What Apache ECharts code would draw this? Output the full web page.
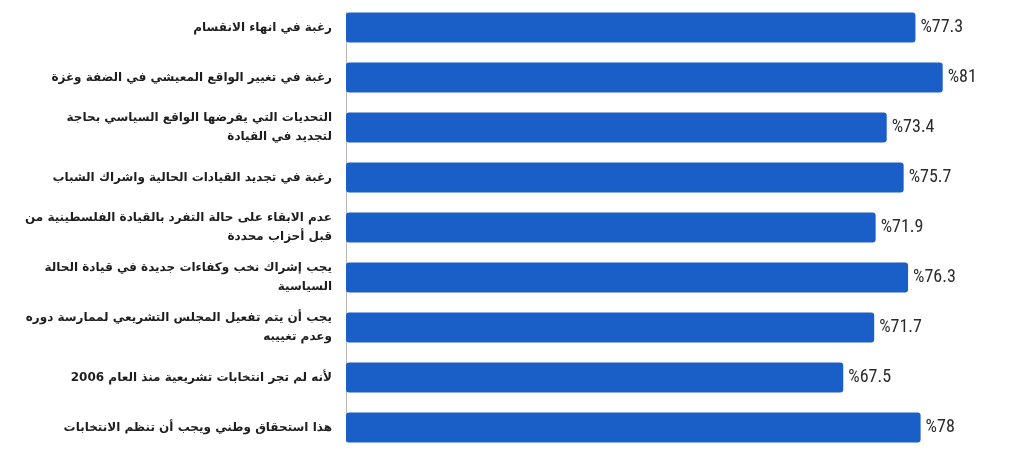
<!DOCTYPE html>
<html lang="ar">
<head>
  <meta charset="UTF-8">
  <title>أسباب تأييد إجراء الانتخابات</title>
  <script src="https://cdn.jsdelivr.net/npm/echarts@6/dist/echarts.min.js"></script>
  <style>
    html, body { margin: 0; padding: 0; background: #fff; }
    #chart { width: 1024px; height: 455px; }
  </style>
</head>
<body>

<div id="chart"></div>

<script>
  // الفئات (من الأعلى إلى الأسفل)
  var categories = [
    'رغبة في انهاء الانقسام',
    'رغبة في تغيير الواقع المعيشي في الضفة وغزة',
    'التحديات التي يفرضها الواقع السياسي بحاجة\nلتجديد في القيادة',
    'رغبة في تجديد القيادات الحالية واشراك الشباب',
    'عدم الابقاء على حالة التفرد بالقيادة الفلسطينية من\nقبل أحزاب محددة',
    'يجب إشراك نخب وكفاءات جديدة في قيادة الحالة\nالسياسية',
    'يجب أن يتم تفعيل المجلس التشريعي لممارسة دوره\nوعدم تغييبه',
    'لأنه لم تجر انتخابات تشريعية منذ العام 2006',
    'هذا استحقاق وطني ويجب أن تنظم الانتخابات'
  ];

  // النسب المئوية
  var values = [77.3, 81, 73.4, 75.7, 71.9, 76.3, 71.7, 67.5, 78];

  var myChart = echarts.init(document.getElementById('chart'));

  var option = {
    animation: false,
    grid: [
      // grid 0: only carries the thin vertical axis line
      { left: 346, right: 15, top: 12, bottom: 13 },
      // grid 1: the bars
      { left: 346, right: 15, top: 27.5, bottom: 27.5 }
    ],
    xAxis: [
      { gridIndex: 0, type: 'value', min: 0, max: 90, show: false },
      { gridIndex: 1, type: 'value', min: 0, max: 90, show: false }
    ],
    yAxis: [
      {
        gridIndex: 0,
        type: 'category',
        data: [''],
        axisLine: { show: true, lineStyle: { color: '#b5b5b5', width: 1 } },
        axisTick: { show: false },
        axisLabel: { show: false }
      },
      {
        gridIndex: 1,
        type: 'category',
        inverse: true,
        boundaryGap: false,
        data: categories,
        axisLine: { show: false },
        axisTick: { show: false },
        axisLabel: {
          margin: 14,
          align: 'right',
          fontFamily: 'DejaVu Sans',
          fontWeight: 'bold',
          fontSize: 12,
          lineHeight: 19,
          color: '#1e1e1e'
        }
      }
    ],
    series: [
      {
        type: 'bar',
        xAxisIndex: 1,
        yAxisIndex: 1,
        data: values,
        barWidth: 30,
        itemStyle: { color: '#1a5fc8', borderRadius: 3 },
        label: {
          show: true,
          position: 'right',
          distance: 5,
          formatter: function (p) { return '%' + p.value; },
          fontFamily: 'Roboto Condensed, DejaVu Sans Condensed, Liberation Sans Narrow, Roboto',
          fontSize: 18,
          color: '#2b2b2b'
        }
      }
    ]
  };

  myChart.setOption(option);
</script>

</body>
</html>
